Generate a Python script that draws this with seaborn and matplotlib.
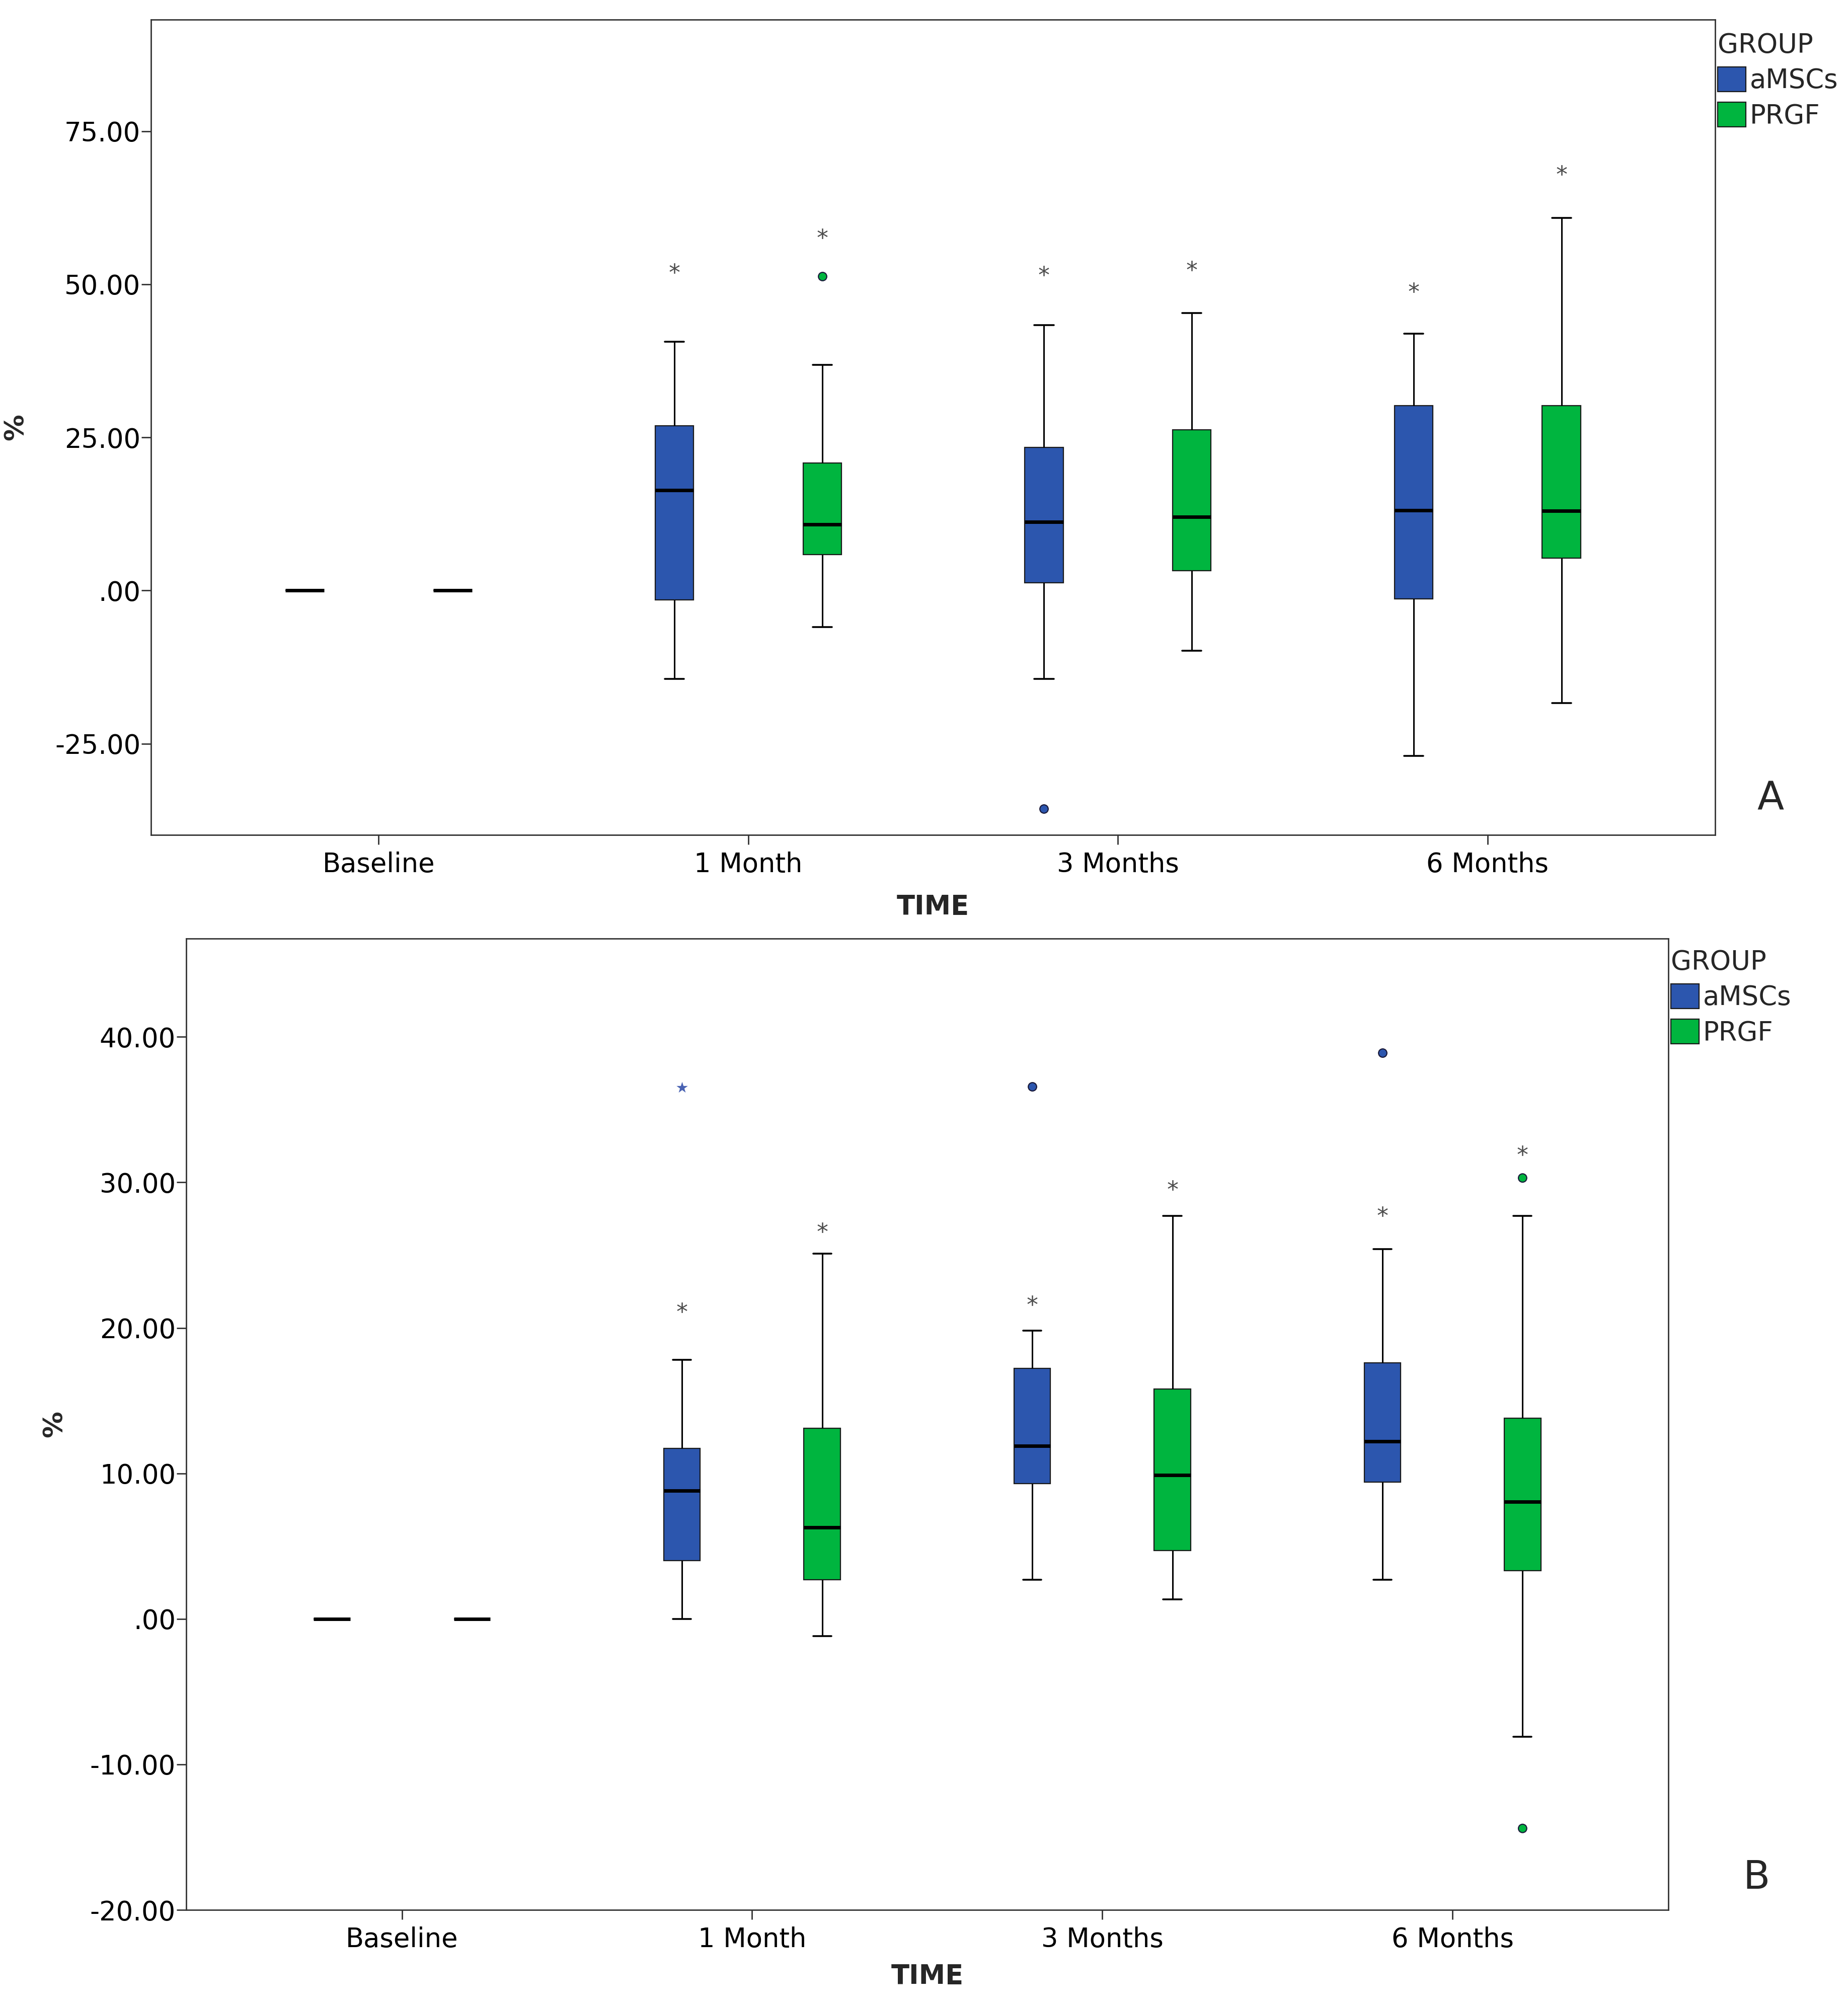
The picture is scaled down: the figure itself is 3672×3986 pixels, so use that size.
import numpy as np
import pandas as pd
import matplotlib
matplotlib.use("Agg")
import matplotlib.pyplot as plt
from matplotlib.ticker import FixedLocator, FuncFormatter
import seaborn as sns

# =========================================================
# DATA
# =========================================================
TIME = ["Baseline", "1 Month", "3 Months", "6 Months"]
GROUPS = ["aMSCs", "PRGF"]
COLORS = {"aMSCs": "#2c56ae", "PRGF": "#00b53f"}

# five-number summary per time point: low whisker, Q1, median, Q3, high whisker
A_MSC = [[0, 0, 0, 0, 0], [-14.4, -1.5, 16.4, 26.9, 40.6],
         [-14.4, 1.3, 11.2, 23.4, 43.3], [-27.0, -1.4, 13.1, 30.2, 41.9]]
A_PRGF = [[0, 0, 0, 0, 0], [-6.0, 5.9, 10.8, 20.8, 36.8],
          [-9.8, 3.2, 12.0, 26.2, 45.3], [-18.4, 5.3, 13.0, 30.2, 60.8]]
A_OUTLIERS = [("1 Month", "PRGF", 51.3), ("3 Months", "aMSCs", -35.6)]
A_EXTREMES = [("1 Month", "aMSCs", 52.6), ("1 Month", "PRGF", 58.3),
              ("3 Months", "aMSCs", 52.2), ("3 Months", "PRGF", 53.0),
              ("6 Months", "aMSCs", 49.5), ("6 Months", "PRGF", 68.6)]
A_BLUE_STARS = []

B_MSC = [[0, 0, 0, 0, 0], [0.0, 4.0, 8.8, 11.7, 17.8],
         [2.7, 9.3, 11.9, 17.2, 19.8], [2.7, 9.4, 12.2, 17.6, 25.4]]
B_PRGF = [[0, 0, 0, 0, 0], [-1.2, 2.7, 6.3, 13.1, 25.1],
          [1.35, 4.7, 9.9, 15.8, 27.7], [-8.1, 3.3, 8.05, 13.8, 27.7]]
B_OUTLIERS = [("3 Months", "aMSCs", 36.6), ("6 Months", "aMSCs", 38.9),
              ("6 Months", "PRGF", 30.3), ("6 Months", "PRGF", -14.4)]
B_EXTREMES = [("1 Month", "aMSCs", 21.4), ("1 Month", "PRGF", 26.9),
              ("3 Months", "aMSCs", 21.9), ("3 Months", "PRGF", 29.8),
              ("6 Months", "aMSCs", 28.0), ("6 Months", "PRGF", 32.2)]
B_BLUE_STARS = [("1 Month", "aMSCs", 36.5)]

A_YTICKS = [-25, 0, 25, 50, 75]
B_YTICKS = [-20, -10, 0, 10, 20, 30, 40]

# =========================================================
# STYLE
# =========================================================
sns.set_theme(style="ticks")
plt.rcParams["font.family"] = ["DejaVu Sans"]
FS = 38
EDGE = "#1a1a1a"


def spss_fmt(v, pos):
    s = f"{v:.2f}"
    if s.startswith("0."):
        s = s[1:]
    elif s.startswith("-0."):
        s = "-" + s[2:]
    return s


def box_frame(msc, prgf):
    rows = []
    for t, vals in zip(TIME, msc):
        rows += [(t, "aMSCs", v) for v in vals]
    for t, vals in zip(TIME, prgf):
        rows += [(t, "PRGF", v) for v in vals]
    return pd.DataFrame(rows, columns=["TIME", "GROUP", "value"])


def draw_panel(ax, msc, prgf, outliers, extremes, blue_stars, ylim, yticks,
               letter, letter_xy, legend_y, ylabel_x, xlabel_y):
    df = box_frame(msc, prgf)
    sns.boxplot(data=df, x="TIME", y="value", hue="GROUP", order=TIME,
                hue_order=GROUPS, palette=COLORS, saturation=1, width=0.8,
                gap=0.74, whis=1.5, showfliers=False, linecolor=EDGE,
                linewidth=1.6,
                medianprops={"linewidth": 5, "color": "black"},
                whiskerprops={"linewidth": 2.2, "color": "black"},
                capprops={"linewidth": 2.6, "color": "black"},
                ax=ax)

    out_df = pd.DataFrame(outliers, columns=["TIME", "GROUP", "value"])
    sns.stripplot(data=out_df, x="TIME", y="value", hue="GROUP", order=TIME,
                  hue_order=GROUPS, palette=COLORS, dodge=True, jitter=False,
                  size=12, linewidth=1.6, edgecolor="#1a1a3a", legend=False,
                  ax=ax)

    ext_df = pd.DataFrame(extremes, columns=["TIME", "GROUP", "value"])
    sns.stripplot(data=ext_df, x="TIME", y="value", hue="GROUP", order=TIME,
                  hue_order=GROUPS, palette={"aMSCs": "#4d4d4d", "PRGF": "#4d4d4d"},
                  dodge=True, jitter=False, marker="$*$", size=15, linewidth=0,
                  legend=False, ax=ax)

    if blue_stars:
        star_df = pd.DataFrame(blue_stars, columns=["TIME", "GROUP", "value"])
        sns.stripplot(data=star_df, x="TIME", y="value", hue="GROUP",
                      order=TIME, hue_order=GROUPS,
                      palette={"aMSCs": "#4a63b3", "PRGF": "#4a63b3"},
                      dodge=True, jitter=False, marker="*", size=17,
                      linewidth=0, legend=False, ax=ax)

    ax.set_xlim(-0.616, 3.616)
    ax.set_ylim(*ylim)
    ax.yaxis.set_major_locator(FixedLocator(yticks))
    ax.yaxis.set_major_formatter(FuncFormatter(spss_fmt))

    for sp in ax.spines.values():
        sp.set_visible(True)
        sp.set_color("#333333")
        sp.set_linewidth(2)
    ax.tick_params(axis="both", direction="out", length=14, width=2,
                   color="#333333", labelsize=FS, labelcolor="black")
    ax.tick_params(axis="y", pad=1)
    ax.tick_params(axis="x", pad=10)

    ax.set_xlabel("TIME", fontsize=FS, fontweight="bold")
    ax.set_ylabel("%", fontsize=FS, fontweight="bold")
    ax.xaxis.set_label_coords(0.5, xlabel_y)
    ax.yaxis.set_label_coords(ylabel_x, 0.5)

    ax.text(letter_xy[0], letter_xy[1], letter, transform=ax.transAxes,
            fontsize=56, ha="center", va="center")

    sns.move_legend(ax, "upper left", bbox_to_anchor=(1.0, legend_y),
                    frameon=False, title="GROUP", fontsize=FS,
                    title_fontsize=FS, handlelength=1.05, handleheight=1.05,
                    handletextpad=0.15, labelspacing=0.32, borderpad=0,
                    borderaxespad=0.1, alignment="left")


fig = plt.figure(figsize=(36.73, 39.86), dpi=100)
ax_a = fig.add_axes([0.0817, 0.5838, 0.8462, 0.4064])
ax_b = fig.add_axes([0.1007, 0.0479, 0.8018, 0.4842])

draw_panel(ax_a, A_MSC, A_PRGF, A_OUTLIERS, A_EXTREMES, A_BLUE_STARS,
           (-39.9, 93.2), A_YTICKS, "A", (1.0354, 0.0444), 0.988,
           -0.078, -0.072)
draw_panel(ax_b, B_MSC, B_PRGF, B_OUTLIERS, B_EXTREMES, B_BLUE_STARS,
           (-20, 46.75), B_YTICKS, "B", (1.0594, 0.0332), 0.992,
           -0.08, -0.055)

fig.savefig("out.png", dpi=100, facecolor="white")
